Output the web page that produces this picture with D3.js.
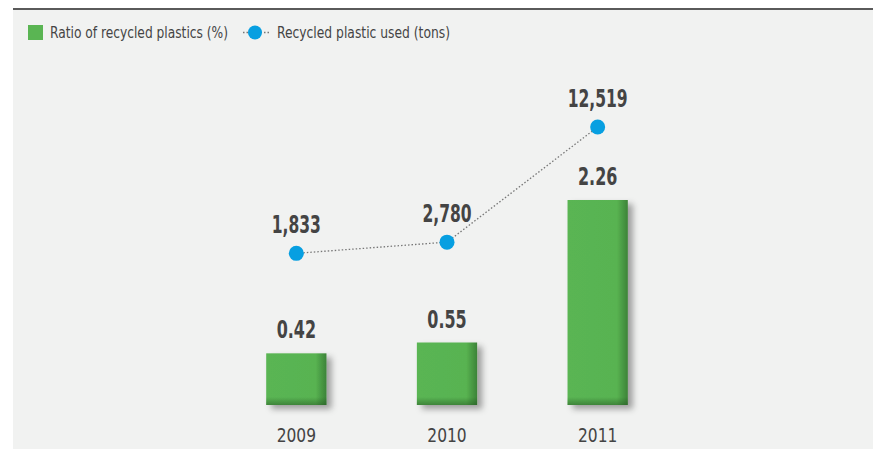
<!DOCTYPE html>
<html>
<head>
<meta charset="utf-8">
<script src="https://cdn.jsdelivr.net/npm/d3@7"></script>
<style>
  body { margin: 0; background: #fff; }
  svg { display: block; }
  text { font-family: "DejaVu Sans Condensed", "Liberation Sans Narrow", sans-serif; fill: #444; }
</style>
</head>
<body>
<div id="chart"></div>
<script>
var years = ["2009", "2010", "2011"];
var ratio = [0.42, 0.55, 2.26];
var tons = [1833, 2780, 12519];
var ratioLabels = ["0.42", "0.55", "2.26"];
var tonLabels = ["1,833", "2,780", "12,519"];

var width = 873, height = 450;
var svg = d3.select("#chart").append("svg")
    .attr("width", width).attr("height", height);

// panel
svg.append("rect").attr("x", 13).attr("y", 9).attr("width", width - 13).attr("height", 440)
    .attr("fill", "#f1f2f1");
svg.append("line").attr("x1", 13).attr("x2", width).attr("y1", 9).attr("y2", 9)
    .attr("stroke", "#5a5a5a").attr("stroke-width", 2);

var defs = svg.append("defs");
var gh = defs.append("linearGradient").attr("id", "barH").attr("x1", 0).attr("x2", 1).attr("y1", 0).attr("y2", 0);
gh.append("stop").attr("offset", "0%").attr("stop-color", "#5ab553");
gh.append("stop").attr("offset", "82%").attr("stop-color", "#58b351");
gh.append("stop").attr("offset", "100%").attr("stop-color", "#3c8338");
var gv = defs.append("linearGradient").attr("id", "barV").attr("x1", 0).attr("x2", 0).attr("y1", 0).attr("y2", 1);
gv.append("stop").attr("offset", "0%").attr("stop-color", "#1e4a1c").attr("stop-opacity", 0);
gv.append("stop").attr("offset", "100%").attr("stop-color", "#1e4a1c").attr("stop-opacity", 0.45);
var f = defs.append("filter").attr("id", "shadow").attr("x", "-20%").attr("y", "-20%").attr("width", "150%").attr("height", "150%");
f.append("feDropShadow").attr("dx", 5).attr("dy", 4).attr("stdDeviation", 3)
    .attr("flood-color", "#000").attr("flood-opacity", 0.35);

var x = d3.scaleBand().domain(years).range([221, 673]).paddingInner(0.6).paddingOuter(0.3);
var base = -0.2;
var y = d3.scaleLinear().domain([base, 2.26]).range([405, 200]);
var y2 = d3.scaleLinear().domain([0, 12519]).range([275, 127]);
var cx = function(d) { return x(d) + x.bandwidth() / 2; };

// condensed text helper
function label(g, tx, ty, str, size, weight, sx) {
    g.append("text")
        .attr("transform", "translate(" + tx + "," + ty + ") scale(" + sx + ",1)")
        .attr("text-anchor", "middle")
        .style("font-size", size + "px").style("font-weight", weight)
        .text(str);
}

var bars = svg.append("g");
bars.selectAll("rect.bar").data(years).join("rect")
    .attr("class", "bar")
    .attr("x", function(d) { return x(d); })
    .attr("y", function(d, i) { return y(ratio[i]); })
    .attr("width", x.bandwidth())
    .attr("height", function(d, i) { return y(base) - y(ratio[i]); })
    .attr("fill", "url(#barH)")
    .attr("filter", "url(#shadow)");
bars.selectAll("rect.foot").data(years).join("rect")
    .attr("class", "foot")
    .attr("x", function(d) { return x(d); })
    .attr("y", y(base) - 8)
    .attr("width", x.bandwidth())
    .attr("height", 8)
    .attr("fill", "url(#barV)");

years.forEach(function(d, i) {
    label(bars, cx(d), y(ratio[i]) - 15, ratioLabels[i], 24, "bold", 0.74);
    label(bars, cx(d), 442, d, 20, "normal", 0.86);
});

var line = d3.line()
    .x(function(d, i) { return cx(years[i]); })
    .y(function(d) { return y2(d); });
svg.append("path").datum(tons)
    .attr("d", line)
    .attr("fill", "none").attr("stroke", "#777").attr("stroke-width", 1.3)
    .attr("stroke-dasharray", "1.5,2");

svg.append("g").selectAll("circle").data(tons).join("circle")
    .attr("cx", function(d, i) { return cx(years[i]); })
    .attr("cy", function(d) { return y2(d); })
    .attr("r", 7.5)
    .attr("fill", "#079fe1");

var pts = svg.append("g");
tons.forEach(function(d, i) {
    label(pts, cx(years[i]), y2(d) - 20, tonLabels[i], 24, "bold", 0.72);
});

// legend
var lg = svg.append("g");
lg.append("rect").attr("x", 28).attr("y", 25).attr("width", 15).attr("height", 15).attr("fill", "#5ab553");
lg.append("text").attr("x", 50).attr("y", 38).style("font-size", "16px")
    .attr("textLength", 178).attr("lengthAdjust", "spacingAndGlyphs")
    .text("Ratio of recycled plastics (%)");
lg.append("line").attr("x1", 243).attr("x2", 269).attr("y1", 32.5).attr("y2", 32.5)
    .attr("stroke", "#777").attr("stroke-width", 1.3).attr("stroke-dasharray", "1.5,2");
lg.append("circle").attr("cx", 255).attr("cy", 32.5).attr("r", 7).attr("fill", "#079fe1");
lg.append("text").attr("x", 277).attr("y", 38).style("font-size", "16px")
    .attr("textLength", 173).attr("lengthAdjust", "spacingAndGlyphs")
    .text("Recycled plastic used (tons)");
</script>
</body>
</html>
